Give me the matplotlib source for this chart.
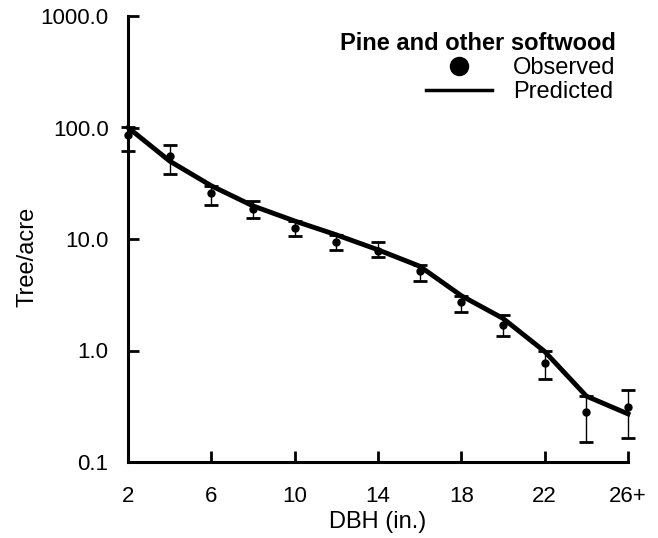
import matplotlib
matplotlib.use('Agg')
import matplotlib.pyplot as plt
from matplotlib.lines import Line2D

plt.rcParams['font.family'] = ['Liberation Sans', 'DejaVu Sans']

# DBH classes (inches) and tick labels
dbh = [2, 4, 6, 8, 10, 12, 14, 16, 18, 20, 22, 24, 26]
tick_pos = [2, 6, 10, 14, 18, 22, 26]
tick_labels = ['2', '6', '10', '14', '18', '22', '26+']

# predicted trees per acre
predicted = [100, 50, 30, 19.8, 14.5, 10.9, 8.0, 5.7, 3.1, 1.94, 0.98, 0.39, 0.27]

# observed trees per acre with error bar limits
observed = [85, 56, 26, 18.6, 12.6, 9.4, 7.8, 5.15, 2.7, 1.68, 0.78, 0.28, 0.31]
obs_upper = [102, 70, 30, 22, 14.5, 10.8, 9.4, 5.9, 3.1, 2.07, 1.0, 0.39, 0.44]
obs_lower = [62, 38.5, 20, 15.5, 10.6, 7.96, 6.9, 4.2, 2.2, 1.34, 0.55, 0.15, 0.165]

fig = plt.figure(figsize=(6.58, 5.38), dpi=100)
ax = fig.add_axes([128 / 658, 76 / 538, 500 / 658, 446 / 538])

yerr = [[o - l for o, l in zip(observed, obs_lower)],
        [u - o for o, u in zip(observed, obs_upper)]]
eb = ax.errorbar(dbh, observed, yerr=yerr, fmt='o', color='black', ms=5,
                 elinewidth=1, capsize=5, capthick=2, zorder=3)
arts = [eb.lines[0]] + list(eb.lines[1]) + list(eb.lines[2])
for art in arts:
    art.set_clip_on(False)
line, = ax.plot(dbh, predicted, color='black', lw=3.5, zorder=2)
line.set_clip_on(False)

ax.set_yscale('log')
ax.set_ylim(0.1, 1000)
ax.set_xlim(2, 26)
ax.set_yticks([0.1, 1, 10, 100, 1000])
ax.set_yticklabels(['0.1', '1.0', '10.0', '100.0', '1000.0'])
ax.minorticks_off()
ax.set_xticks(tick_pos)
ax.set_xticklabels(tick_labels)

for s in ['top', 'right']:
    ax.spines[s].set_visible(False)
for s in ['left', 'bottom']:
    ax.spines[s].set_linewidth(2.2)
ax.tick_params(direction='in', length=8, width=2, labelsize=16)
ax.tick_params(axis='x', pad=17)
ax.tick_params(axis='y', pad=14)

ax.set_xlabel('DBH (in.)', fontsize=17, labelpad=3)
ax.set_ylabel('Tree/acre', fontsize=17)
ax.yaxis.set_label_coords(-0.178, 0.46)

handles = [Line2D([], [], ls='none', marker='o', color='black', ms=13),
           Line2D([], [], color='black', lw=2.5)]
leg = ax.legend(handles, ['Observed', 'Predicted'], title='Pine and other softwood',
                frameon=False, loc='upper right', bbox_to_anchor=(0.975, 0.965),
                fontsize=17, alignment='right', handlelength=2.8,
                handletextpad=0.9, labelspacing=0.1, borderaxespad=0,
                borderpad=0)
leg.get_title().set_fontweight('bold')
leg.get_title().set_fontsize(17)

fig.savefig('out.png', dpi=100)
